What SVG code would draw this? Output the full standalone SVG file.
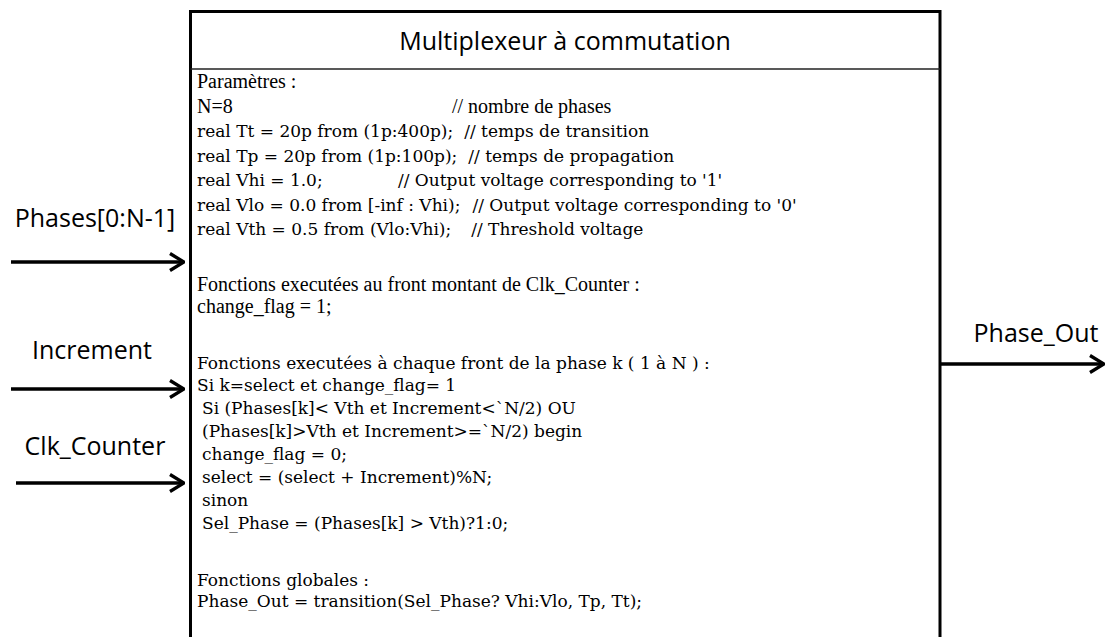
<svg xmlns="http://www.w3.org/2000/svg" width="1108" height="637" viewBox="0 0 1108 637">
<defs>
<style>
.lbl{font-family:"Open Sans","Liberation Sans",sans-serif;font-size:25px;fill:#000}
.tnr{font-family:"Liberation Serif","Times New Roman",serif;font-size:20px;fill:#000}
.cam{font-family:"DejaVu Serif","Liberation Serif",serif;font-size:17px;fill:#000}
.wire{stroke:#000;stroke-width:3.3;fill:none}
</style>
<marker id="chev" viewBox="0 0 16 20" refX="15" refY="10" markerWidth="16" markerHeight="20" markerUnits="userSpaceOnUse" orient="auto">
<path d="M1 1.5 L15 10 L1 18.5" fill="none" stroke="#000" stroke-width="3.3"/>
</marker>
</defs>
<rect width="1108" height="637" fill="#fff"/>
<g id="block">
<path d="M190.5 637 V11.5 H940 V637" fill="none" stroke="#000" stroke-width="3"/>
<line x1="190.5" y1="69" x2="940" y2="69" stroke="#222" stroke-width="1.6"/>
<text class="lbl" x="565" y="50" text-anchor="middle">Multiplexeur à commutation</text>
<text class="tnr" x="197" y="88">Paramètres :</text>
<text class="tnr" x="197" y="112.5">N=8</text>
<text class="tnr" x="452" y="112.5">// nombre de phases</text>
<text class="cam" x="197" y="137">real Tt = 20p from (1p:400p);<tspan dx="11">// temps de transition</tspan></text>
<text class="cam" x="197" y="161.5">real Tp = 20p from (1p:100p);<tspan dx="11">// temps de propagation</tspan></text>
<text class="cam" x="197" y="186">real Vhi = 1.0;<tspan x="398">// Output voltage corresponding to '1'</tspan></text>
<text class="cam" x="197" y="210.5">real Vlo = 0.0 from [-inf : Vhi);<tspan dx="12">// Output voltage corresponding to '0'</tspan></text>
<text class="cam" x="197" y="235">real Vth = 0.5 from (Vlo:Vhi);<tspan dx="20">// Threshold voltage</tspan></text>
<text class="tnr" x="197" y="291">Fonctions executées au front montant de Clk_Counter :</text>
<text class="tnr" x="197" y="313">change_flag = 1;</text>
<text class="cam" x="197" y="369">Fonctions executées à chaque front de la phase k ( 1 à N ) :</text>
<text class="cam" x="197" y="391">Si k=select et change_flag= 1</text>
<text class="cam" x="202" y="414">Si (Phases[k]&lt; Vth et Increment&lt;`N/2) OU</text>
<text class="cam" x="202" y="437">(Phases[k]&gt;Vth et Increment&gt;=`N/2) begin</text>
<text class="cam" x="202" y="460">change_flag = 0;</text>
<text class="cam" x="202" y="483">select = (select + Increment)%N;</text>
<text class="cam" x="202" y="506">sinon</text>
<text class="cam" x="202" y="529">Sel_Phase = (Phases[k] &gt; Vth)?1:0;</text>
<text class="cam" x="197" y="586">Fonctions globales :</text>
<text class="cam" x="197" y="607">Phase_Out = transition(Sel_Phase? Vhi:Vlo, Tp, Tt);</text>
</g>
<g id="port-phases"><text class="lbl" x="95" y="227" text-anchor="middle">Phases[0:N-1]</text></g>
<g id="port-increment"><text class="lbl" x="92" y="359" text-anchor="middle">Increment</text></g>
<g id="port-clk"><text class="lbl" x="95" y="455" text-anchor="middle">Clk_Counter</text></g>
<g id="port-out"><text class="lbl" x="1036" y="342" text-anchor="middle">Phase_Out</text></g>
<g id="connectors">
<line class="wire" x1="11" y1="262" x2="184" y2="262" marker-end="url(#chev)"/>
<line class="wire" x1="11" y1="389" x2="184" y2="389" marker-end="url(#chev)"/>
<line class="wire" x1="16" y1="483" x2="184" y2="483" marker-end="url(#chev)"/>
<line class="wire" x1="941" y1="364" x2="1104" y2="364" marker-end="url(#chev)"/>
</g>
</svg>
